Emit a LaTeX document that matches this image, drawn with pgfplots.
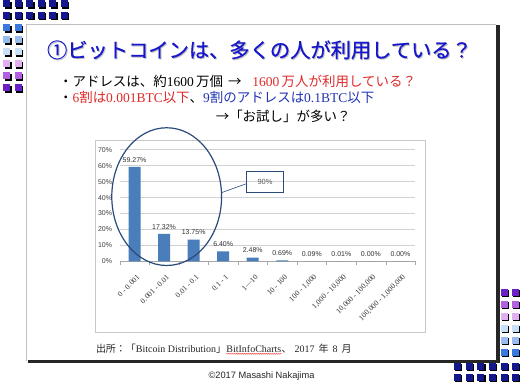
\documentclass[border=0pt]{standalone}
\usepackage{pgfplots}
\pgfplotsset{compat=1.18}
\usetikzlibrary{decorations.pathmorphing}
\usepackage{fontspec}
\setmainfont{Liberation Serif}
\newfontfamily\jp{Noto Sans CJK JP}
\newfontfamily\jpb[FakeBold=0.5]{Noto Sans CJK JP}
\newfontfamily\lsans{Liberation Sans}
\definecolor{barblue}{HTML}{4A7EBB}
\definecolor{navy}{HTML}{14188C}
\definecolor{ellc}{HTML}{2B4A7C}
\definecolor{redt}{HTML}{E02A2A}
\definecolor{bluet}{HTML}{2434B4}
\definecolor{titleblue}{HTML}{1616CC}
\definecolor{cA}{HTML}{3A78E0}
\definecolor{cB}{HTML}{98BCF0}
\definecolor{cC}{HTML}{C8E0F8}
\definecolor{cD}{HTML}{E0B0F0}
\definecolor{cE}{HTML}{B060E0}
\definecolor{cF}{HTML}{6A22C4}
\newcommand{\sq}[3]{%
  \fill[black] ({#1-2},{384-#2-5}) rectangle ++(7,7);
  \fill[#3] ({#1-3.5},{384-#2-3.5}) rectangle ++(7,7);}
\pgfplotstableread{
x y
0 59.27
1 17.32
2 13.75
3 6.40
4 2.48
5 0.69
6 0.09
7 0.01
8 0.00
9 0.00
}\dist
\begin{document}
\begin{tikzpicture}[x=1pt,y=1pt]
\fill[white] (0,0) rectangle (520,384);
% decorative squares top-left
\foreach \xx in {7,18.5,30,41.5,53,64.5}{\sq{\xx}{4}{navy}\sq{\xx}{15.5}{navy}}
\foreach \yy/\cc in {28/cA,40/cB,52/cC,64/cD,76/cE,88/cF}{\sq{7}{\yy}{\cc}\sq{18.5}{\yy}{\cc}}
% decorative squares bottom-right
\foreach \yy/\cc in {293/cF,305/cE,317/cD,329/cC,341/cB,353/cA}{\sq{505}{\yy}{\cc}\sq{516}{\yy}{\cc}}
\foreach \xx in {458,470,481.5,493,505,516}{\sq{\xx}{367}{navy}\sq{\xx}{378}{navy}}
% slide frame
\fill[white] (26,22) rectangle (497,360);
\draw[black!25, line width=0.8] (26,22) -- (26,360) -- (497,360);
\fill[black!85] (497,359) rectangle (500.5,20);
\fill[black!85] (28,20) rectangle (500.5,23.5);
% title
\node[text=black!25] at (261,333) {\jpb\fontsize{20.3}{22}\selectfont ①ビットコインは、多くの人が利用している？};
\node[text=titleblue] at (260,334) {\jpb\fontsize{20.3}{22}\selectfont ①ビットコインは、多くの人が利用している？};
% text lines
\node[anchor=west, inner sep=0] at (59,302) {\fontsize{13.5}{15}\selectfont{\jp ・アドレスは、約}1600\,{\jp 万個}\hspace{5pt}{\jp →}\hspace{11pt}\textcolor{redt}{1600\,{\jp 万人が利用している？}}};
\node[anchor=west, inner sep=0] at (59,286.5) {\fontsize{13.5}{15}\selectfont{\jp ・}\textcolor{redt}{6{\jp 割は}0.001BTC{\jp 以下}}{\jp 、}\textcolor{bluet}{9{\jp 割のアドレスは}0.1BTC{\jp 以下}}};
\node[anchor=west, inner sep=0] at (216,267.5) {\fontsize{13.5}{15}\selectfont\jp →「お試し」が多い？};
% chart frame
\draw[black!22] (95,51) rectangle (426,244);
\begin{axis}[
  at={(120pt,122pt)}, anchor=south west,
  scale only axis, width=296pt, height=112pt,
  xmin=-0.5, xmax=9.5, ymin=0, ymax=70,
  axis line style={draw=none},
  ytick={0,10,...,70},
  yticklabel={\pgfmathprintnumber{\tick}\%},
  /pgf/number format/assume math mode=true,
  ymajorgrids, grid style={draw=black!18, line width=0.6pt},
  ytick style={draw=none},
  xtick={0,...,9},
  xticklabels={0 - 0.001, 0.001 - 0.01, 0.01 - 0.1, 0.1 - 1, 1—10, 10 - 100, 100 - 1{,}000, 1{,}000 - 10{,}000, 10{,}000 - 100{,}000, 100{,}000 - 1{,}000{,}000},
  major x tick style={draw=none},
  minor xtick={-0.5,0.5,...,9.5},
  minor x tick style={draw=black!35},
  minor tick length=4pt,
  tick align=outside,
  xtick pos=bottom, ytick pos=left,
  x tick label style={rotate=45, anchor=east, font=\fontsize{7.7}{8}\selectfont, text=black!80, yshift=-10pt, xshift=-1pt},
  y tick label style={font=\lsans\fontsize{7}{8}\selectfont, text=black!75},
  clip=false,
]
\draw[black!35, line width=0.6pt] (axis cs:-0.5,0) -- (axis cs:9.5,0);
\addplot[ybar, bar width=12pt, bar shift=0pt, fill=barblue, draw=none,
  nodes near coords={\pgfmathprintnumber[fixed,fixed zerofill,precision=2]{\pgfplotspointmeta}\%},
  every node near coord/.append style={font=\lsans\fontsize{7}{8}\selectfont, text=black!80, yshift=1pt}]
  table[x=x,y=y]{\dist};
\end{axis}
% annotation ellipse and callout
\draw[ellc, line width=1.2pt] (167,187) ellipse [x radius=55, y radius=69];
\draw[ellc, line width=0.6pt] (222,191) -- (247,200);
\draw[ellc, line width=1.1pt] (247,191) rectangle (284,212);
\node[text=black!65] at (265.5,201.5) {\lsans\fontsize{7.5}{8}\selectfont 90\%};
% source and copyright
\node[anchor=base west, inner sep=0, text=black!85] (srcA) at (96,31) {\fontsize{10}{11}\selectfont{\jp 出所：「}Bitcoin Distribution{\jp 」}};
\node[anchor=base west, inner sep=0, text=black!85] (srcB) at (srcA.base east) {\fontsize{10}{11}\selectfont BitInfoCharts};
\node[anchor=base west, inner sep=0, text=black!85] (srcC) at (srcB.base east) {\fontsize{10}{11}\selectfont{\jp 、}\hspace{3pt}2017\hspace{4pt}{\jp 年}\hspace{4pt}8\hspace{4pt}{\jp 月}};
\draw[red!80, line width=0.4pt, decorate, decoration={snake, amplitude=0.5pt, segment length=2pt}] ([yshift=-1.5pt]srcB.base west) -- ([yshift=-1.5pt]srcB.base east);
\node[text=black!85] at (262,7) {\lsans\fontsize{9.3}{10}\selectfont ©2017 Masashi Nakajima};
\end{tikzpicture}
\end{document}
